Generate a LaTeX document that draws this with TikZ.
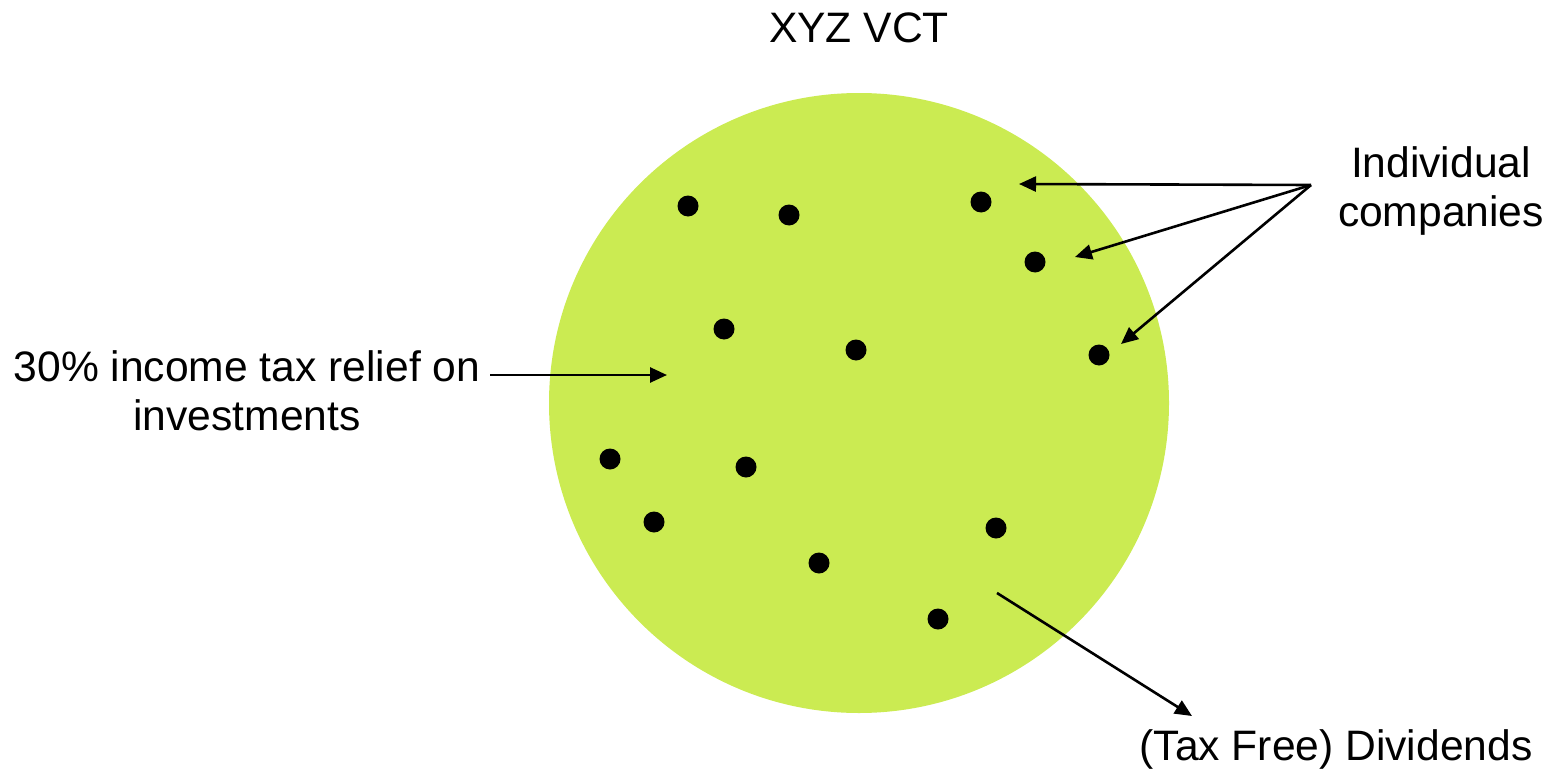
\documentclass[tikz,border=0pt]{standalone}
\usepackage{fontspec}
\setmainfont{Liberation Sans}
\usetikzlibrary{arrows.meta}
\definecolor{vctgreen}{RGB}{203,235,82}
\begin{document}
\begin{tikzpicture}[x=1pt,y=-1pt,
  label text/.style={font=\fontsize{42.6}{49}\selectfont, align=center, inner sep=0pt},
  company/.style={circle, fill=black, minimum size=21pt, inner sep=0pt},
  pointer/.style={line width=2.6pt, -{Triangle[length=17pt,width=15pt]}}]
\useasboundingbox (0,0) rectangle (1555,776);
% fund circle
\node[circle, fill=vctgreen, minimum size=620pt, inner sep=0pt] (fund) at (859,403) {};
% title
\node[label text] (title) at (859,28) {XYZ VCT};
% portfolio companies
\foreach \n/\px/\py in {1/688/206, 2/789/215, 3/981/202, 4/1035/262, 5/724/329,
  6/856/350, 7/1099/355, 8/610/459, 9/746/467, 10/654/522, 11/996/528,
  12/819/563, 13/938/619}
  \node[company] (d\n) at (\px,\py) {};
% labels
\node[label text] (comp) at (1441,191) {Individual\\companies};
\node[label text] (relief) at (247,391) {30\% income tax relief on\\investments};
\node[label text] (div) at (1336,749) {(Tax Free) Dividends};
% arrow end points
\coordinate (hub) at (1311,185);
\coordinate (c1) at (1019,184);
\coordinate (c2) at (1075,257);
\coordinate (c3) at (1121,344);
\coordinate (rstart) at (490,375);
\coordinate (rin) at (667,375);
\coordinate (dstart) at (997,593);
\coordinate (dend) at (1192,716);
% connectors
\draw[pointer] (hub) -- (c1);
\draw[pointer] (hub) -- (c2);
\draw[pointer] (hub) -- (c3);
\draw[pointer] (rstart) -- (rin);
\draw[pointer] (dstart) -- (dend);
\end{tikzpicture}
\end{document}
